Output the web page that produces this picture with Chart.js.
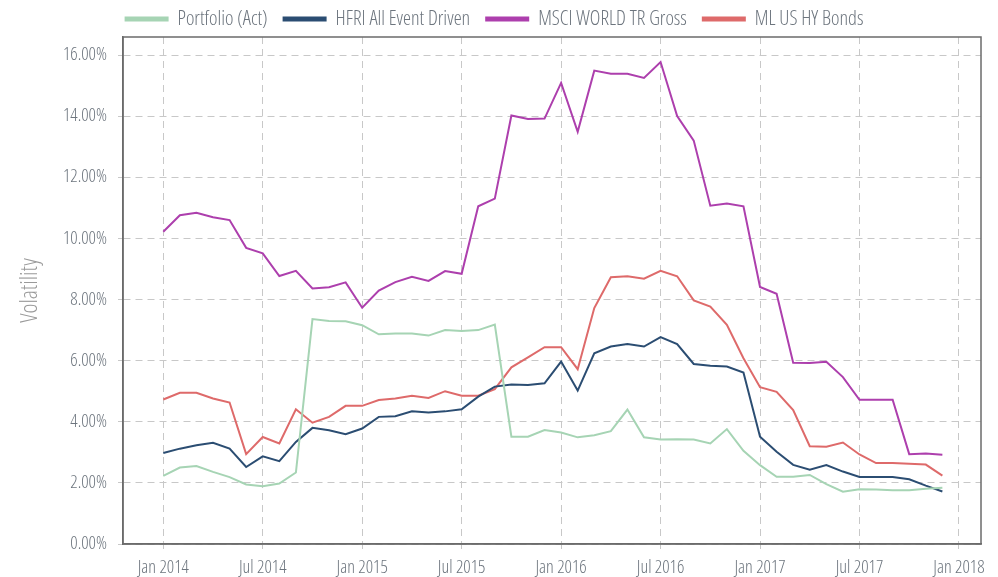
<!DOCTYPE html>
<html>
<head>
<meta charset="utf-8">
<script src="https://cdn.jsdelivr.net/npm/chart.js@4.4.1/dist/chart.umd.min.js"></script>
<style>
html,body{margin:0;padding:0;background:#fff;}
#wrap{width:998px;height:577px;position:relative;}
</style>
</head>
<body>
<div id="wrap"><canvas id="c" width="998" height="577"></canvas></div>
<script>
// Month index 0 = Jan 2014 ... 47 = Dec 2017
const months = Array.from({length:48}, (_, i) => i);
const xTickPositions = [0, 6, 12, 18, 24, 30, 36, 42, 48];
const xTickLabels = ["Jan 2014","Jul 2014","Jan 2015","Jul 2015","Jan 2016","Jul 2016","Jan 2017","Jul 2017","Jan 2018"];
const yTickValues = [0, 2, 4, 6, 8, 10, 12, 14, 16];

const portfolio = [2.23,2.50,2.55,2.36,2.19,1.95,1.89,1.98,2.34,7.36,7.30,7.29,
                   7.16,6.86,6.89,6.89,6.82,7.00,6.97,7.00,7.18,3.51,3.51,3.73,
                   3.65,3.49,3.56,3.69,4.40,3.49,3.42,3.43,3.42,3.29,3.76,3.05,
                   2.58,2.20,2.20,2.26,1.96,1.71,1.79,1.78,1.76,1.76,1.81,1.84];
const hfri = [2.98,3.12,3.23,3.31,3.12,2.52,2.87,2.71,3.34,3.80,3.72,3.59,
              3.78,4.16,4.18,4.34,4.30,4.34,4.41,4.82,5.15,5.22,5.20,5.26,
              5.97,5.02,6.24,6.46,6.54,6.46,6.77,6.54,5.89,5.83,5.81,5.61,
              3.51,3.02,2.59,2.43,2.58,2.37,2.19,2.19,2.19,2.12,1.91,1.72];
const msci = [10.22,10.76,10.84,10.69,10.60,9.69,9.51,8.77,8.94,8.36,8.40,8.56,
              7.73,8.29,8.57,8.74,8.61,8.93,8.84,11.05,11.30,14.02,13.91,13.92,
              15.09,13.49,15.49,15.39,15.39,15.25,15.77,14.00,13.20,11.07,11.14,11.05,
              8.41,8.19,5.93,5.92,5.96,5.46,4.72,4.72,4.72,2.94,2.96,2.92];
const mlhy = [4.73,4.95,4.95,4.76,4.63,2.94,3.50,3.29,4.41,3.97,4.16,4.52,
              4.52,4.71,4.76,4.85,4.78,5.00,4.85,4.85,5.07,5.78,6.11,6.44,
              6.44,5.72,7.72,8.73,8.76,8.68,8.94,8.76,7.97,7.77,7.17,6.08,
              5.13,4.98,4.38,3.20,3.18,3.32,2.93,2.65,2.65,2.63,2.60,2.24];

const seriesNames = ["Portfolio (Act)","HFRI All Event Driven","MSCI WORLD TR Gross","ML US HY Bonds"];
const seriesColors = ["#a6d4b4","#2b4d72","#ad3fad","#de6a6a"];
const seriesValues = [portfolio, hfri, msci, mlhy];

// ---- font selection: prefer a condensed face, else squeeze text horizontally ----
const FAMILY = "'Open Sans','Liberation Sans',sans-serif";
const probe = document.createElement('canvas').getContext('2d');
function tryFont(str) { probe.font = '10px serif'; probe.font = str; return probe.font !== '10px serif' ? probe.measureText('Portfolio (Act)').width : null; }
let WEIGHT = '300 condensed';
let w = tryFont(WEIGHT + ' 20px ' + FAMILY);
if (w === null) { WEIGHT = '300'; w = tryFont(WEIGHT + ' 20px ' + FAMILY); }
const SX = Math.max(0.5, Math.min(1.04, 90 / w));   // legend text "Portfolio (Act)" is ~90px wide in the reference

const canvas = document.getElementById('c');
const ctx = canvas.getContext('2d');
const origFill = ctx.fillText.bind(ctx);
const origMeasure = ctx.measureText.bind(ctx);
ctx.fillText = function(t, x, y, mw) {
  this.save(); this.translate(x, y); this.scale(SX, 1); origFill(t, 0, 0); this.restore();
};
ctx.measureText = function(t) {
  const m = origMeasure(t);
  return {width: m.width * SX, actualBoundingBoxAscent: m.actualBoundingBoxAscent,
          actualBoundingBoxDescent: m.actualBoundingBoxDescent,
          actualBoundingBoxLeft: m.actualBoundingBoxLeft * SX, actualBoundingBoxRight: m.actualBoundingBoxRight * SX};
};

const TEXT = "#6d757e";

const datasets = seriesValues.map((vals, k) => ({
  label: seriesNames[k],
  data: months.map((m, i) => ({x: m, y: vals[i]})),
  borderColor: seriesColors[k],
  backgroundColor: seriesColors[k],
  borderWidth: 2,
  pointRadius: 0,
  pointHoverRadius: 0,
  tension: 0,
  fill: false
}));

const frame = {
  id: 'frame',
  beforeInit(chart) {
    const lg = chart.legend;
    if (lg) {
      const origFit = lg.fit.bind(lg);
      lg.fit = function() { origFit(); this.height = 37; };
      const origDraw = lg.draw.bind(lg);
      lg.draw = function() { const c = this.ctx; c.save(); c.translate(4, -7); origDraw(); c.restore(); };
    }
  },
  afterDraw(chart) {
    const a = chart.chartArea, c = chart.ctx;
    c.save();
    c.strokeStyle = '#6b6b6b';
    c.lineWidth = 1.5;
    c.strokeRect(a.left, a.top, a.right - a.left, a.bottom - a.top);
    c.restore();
  }
};

new Chart(ctx, {
  type: 'line',
  data: {datasets},
  plugins: [frame],
  options: {
    responsive: false,
    animation: false,
    parsing: false,
    normalized: true,
    layout: {padding: {left: 0, right: 17, top: 0, bottom: 0}},
    plugins: {
      legend: {
        position: 'top',
        align: 'center',
        labels: {
          boxWidth: 42,
          boxHeight: 3,
          padding: 16,
          color: TEXT,
          font: {family: FAMILY, size: 20, weight: WEIGHT}
        }
      },
      tooltip: {enabled: false}
    },
    scales: {
      x: {
        type: 'linear',
        min: -2.43,
        max: 49.33,
        afterBuildTicks(scale) { scale.ticks = xTickPositions.map(v => ({value: v})); },
        afterFit(scale) { scale.height = 33; },
        ticks: {
          autoSkip: false,
          maxRotation: 0,
          color: TEXT,
          padding: 8,
          font: {family: FAMILY, size: 18, weight: WEIGHT},
          callback(v) { const i = xTickPositions.indexOf(v); return i >= 0 ? xTickLabels[i] : ''; }
        },
        grid: {color: '#c8c8c8', lineWidth: 1, tickLength: 5, drawTicks: true},
        border: {display: true, color: '#6b6b6b', width: 1.5, dash: [7, 5]}
      },
      y: {
        min: 0,
        max: 16.59,
        afterBuildTicks(scale) { scale.ticks = yTickValues.map(v => ({value: v})); },
        afterFit(scale) { scale.width = 123; },
        title: {
          display: true,
          text: 'Volatility',
          color: '#9a9a9a',
          font: {family: FAMILY, size: 23.5, weight: WEIGHT},
          padding: {top: 16, bottom: 0}
        },
        ticks: {
          color: TEXT,
          padding: 11,
          font: {family: FAMILY, size: 18, weight: WEIGHT},
          callback(v) { return v.toFixed(2) + '%'; }
        },
        grid: {color: '#c8c8c8', lineWidth: 1, tickLength: 5, drawTicks: true},
        border: {display: true, color: '#6b6b6b', width: 1.5, dash: [7, 5]}
      }
    }
  }
});
</script>
</body>
</html>
